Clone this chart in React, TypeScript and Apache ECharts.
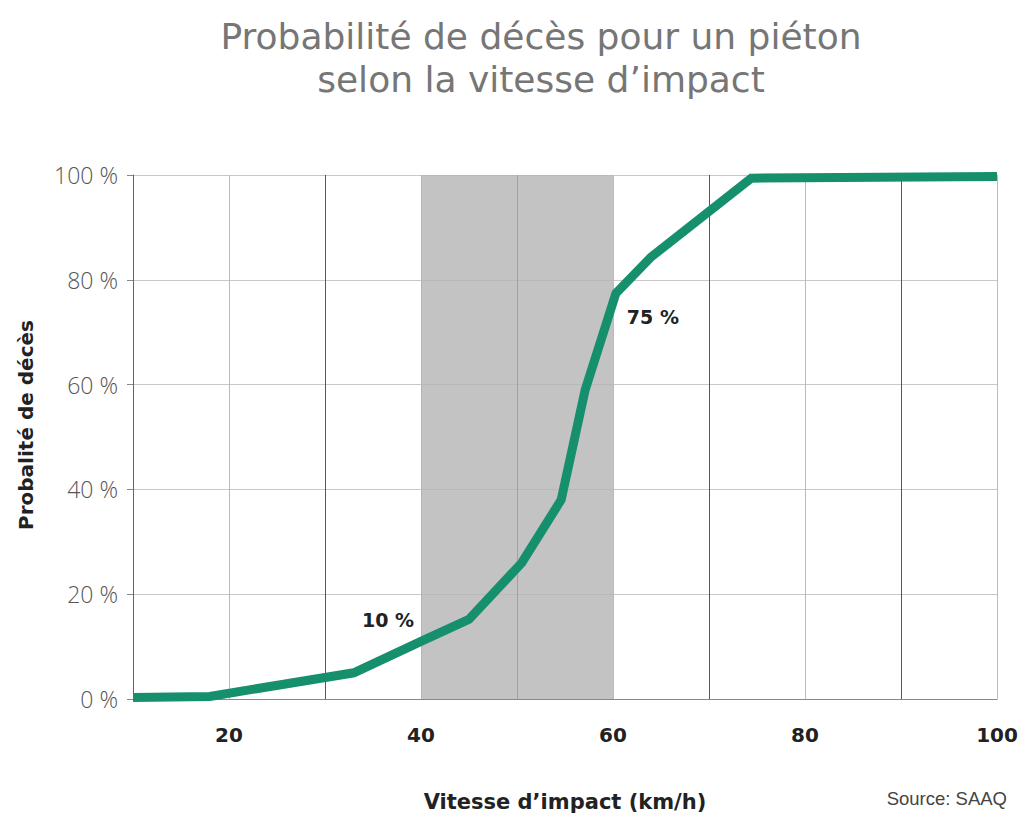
import React, { useEffect, useRef } from "react";
import * as echarts from "echarts";

const titleLines = ["Probabilité de décès pour un piéton", "selon la vitesse d’impact"];
const xAxisName = "Vitesse d’impact (km/h)";
const yAxisName = "Probalité de décès";
const sourceText = "Source: SAAQ";
const speeds = [10, 18, 33, 40, 45, 50.5, 54.6, 57.1, 60.3, 64, 74.4, 100];
const probabilities = [0.3, 0.5, 5, 11, 15.2, 26, 38, 59, 77.4, 84.4, 99.4, 99.7];
const annotationSpeeds = [40, 60.3];
const annotationValues = [11, 77.4];
const annotationTexts = ["10 %", "75 %"];
const annotationOffsets = [[-33, -21], [37, 24]];
const bandRange = [40, 60];
const xTicks = [20, 40, 60, 80, 100];

export default function App() {
  const ref = useRef<HTMLDivElement>(null);
  useEffect(() => {
    if (!ref.current) return;
    const chart = echarts.init(ref.current, null, { renderer: "svg" });
    const boldFont = "'DejaVu Sans', sans-serif";
    const data = speeds.map((s, i) => [s, probabilities[i]]);
    const markPoints = annotationSpeeds.map((s, i) => ({
      coord: [s, annotationValues[i]],
      symbol: "circle",
      symbolSize: 0,
      label: {
        show: true,
        formatter: annotationTexts[i],
        position: "inside",
        offset: annotationOffsets[i],
        color: "#222",
        fontSize: 19,
        fontWeight: "bold",
        fontFamily: boldFont,
      },
    }));
    const titleY = [36, 79];
    chart.setOption({
      animation: false,
      backgroundColor: "#fff",
      graphic: titleLines.map((t, i) => ({
        type: "text",
        x: 541,
        y: titleY[i],
        silent: true,
        style: {
          text: t,
          fill: "#767676",
          fontSize: 36,
          lineHeight: 41,
          fontWeight: "normal",
          fontFamily: "'DejaVu Sans', sans-serif",
          textAlign: "center",
          textVerticalAlign: "middle",
        },
      })),
      title: [
        {
          text: sourceText,
          right: 17,
          top: 789,
          padding: 0,
          textStyle: {
            color: "#444",
            fontSize: 18.5,
            fontWeight: "normal",
            fontFamily: "'Liberation Sans', Arial, sans-serif",
          },
        },
      ],
      grid: { left: 133, right: 27, top: 175, bottom: 121 },
      xAxis: {
        type: "value",
        min: 10,
        max: 100,
        interval: 10,
        name: xAxisName,
        nameLocation: "middle",
        nameGap: 92,
        nameTextStyle: { color: "#222", fontSize: 21, fontWeight: "bold", fontFamily: boldFont },
        axisLine: { show: true, lineStyle: { color: "#888", width: 1 } },
        axisTick: { show: false },
        axisLabel: {
          margin: 26,
          color: "#222",
          fontSize: 20,
          fontWeight: "bold",
          fontFamily: boldFont,
          formatter: (v: number) => (xTicks.includes(v) ? String(v) : ""),
        },
        splitLine: { show: true, lineStyle: { color: ["#555", "#bbb"], width: 1 } },
      },
      yAxis: {
        type: "value",
        min: 0,
        max: 100,
        interval: 20,
        name: yAxisName,
        nameLocation: "middle",
        nameGap: 97,
        nameRotate: 90,
        nameTextStyle: {
          color: "#222",
          fontSize: 20,
          fontWeight: "bold",
          fontFamily: boldFont,
          padding: [0, 0, 0, 24],
        },
        axisLine: { show: true, lineStyle: { color: "#666", width: 1 } },
        axisTick: { show: true, inside: false, length: 6, lineStyle: { color: "#888" } },
        axisLabel: {
          margin: 15,
          color: "#555",
          fontSize: 23,
          fontWeight: 300,
          fontFamily: "'Open Sans', sans-serif",
          formatter: "{value} %",
        },
        splitLine: { show: true, lineStyle: { color: "#c8c8c8", width: 1 } },
      },
      series: [
        {
          type: "line",
          data,
          symbol: "none",
          lineStyle: { color: "#168f6d", width: 9, join: "miter" },
          itemStyle: { color: "#168f6d" },
          z: 5,
          markArea: {
            silent: true,
            itemStyle: { color: "rgba(180,180,180,0.8)" },
            data: [[{ xAxis: bandRange[0] }, { xAxis: bandRange[1] }]],
          },
          markPoint: {
            silent: true,
            data: markPoints,
          },
        },
      ],
    });
    return () => chart.dispose();
  }, []);
  return (
    <div
      ref={ref}
      style={{ position: "absolute", left: 0, top: 0, width: 1024, height: 820 }}
    />
  );
}
